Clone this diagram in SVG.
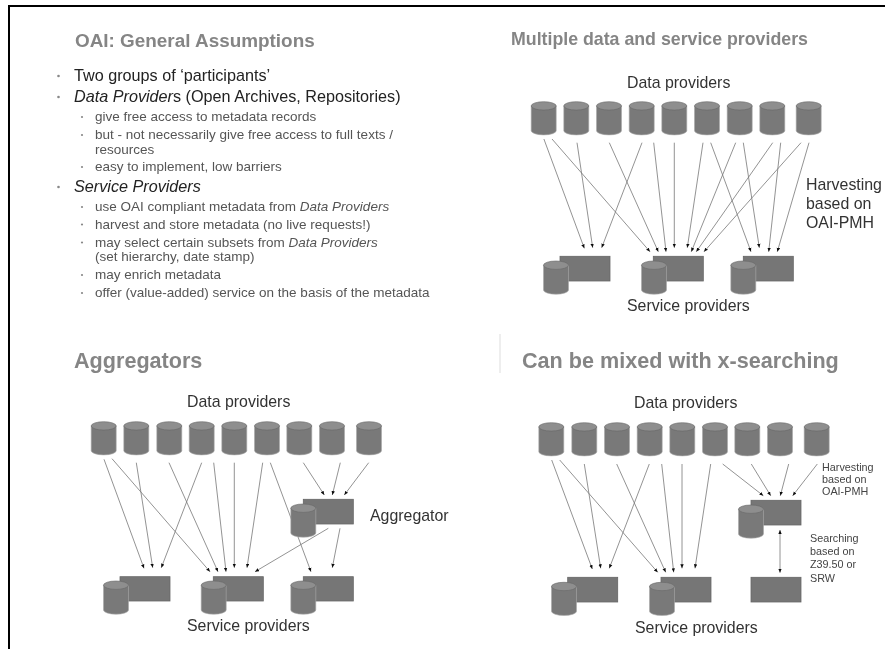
<svg xmlns="http://www.w3.org/2000/svg" xmlns:xlink="http://www.w3.org/1999/xlink" width="885" height="649" viewBox="0 0 885 649">
<style>
text{font-family:"Liberation Sans",Arial,sans-serif}
.ttl{font-weight:bold;fill:#858585}
.l1{font-size:16.2px;fill:#222}
.l2{font-size:13.5px;fill:#555}
.lab{font-size:15.9px;fill:#333}
.sm{font-size:10.8px;fill:#444}
.b{fill:#888}
.a line{stroke:#777;stroke-width:.8;marker-end:url(#ah)}
.rc{fill:#767676;stroke:#666;stroke-width:.8}
.cb{fill:#797979;stroke:#aaa;stroke-width:.6}
.ct{fill:#8e8e8e;stroke:#666;stroke-width:.6}
</style>
<defs>
<filter id="s" x="0" y="0" width="100%" height="100%" filterUnits="userSpaceOnUse"><feGaussianBlur stdDeviation="0.4"/></filter>
<marker id="ah" markerUnits="userSpaceOnUse" markerWidth="5" markerHeight="5" refX="4" refY="2" orient="auto"><path d="M0 0.300L4 2L0 3.700Z" fill="#111"/></marker>
<marker id="as" markerUnits="userSpaceOnUse" markerWidth="5" markerHeight="5" refX="0" refY="2" orient="auto"><path d="M4 0.300L0 2L4 3.700Z" fill="#111"/></marker>
<g id="cyl"><path class="cb" d="M0 4.200V29a12.500 4.200 0 0 0 25 0V4.200Z"/><ellipse class="ct" cx="12.500" cy="4.200" rx="12.500" ry="4.200"/></g>
</defs>
<rect width="885" height="649" fill="#fff"/>
<g filter="url(#s)">
<path d="M9 649V6H885" fill="none" stroke="#000" stroke-width="2"/>
<path d="M500 334V373" stroke="#ddd" stroke-width="1"/>

<g id="connectors" class="a">
<line x1="543.9" y1="139" x2="584.3" y2="248.3"/><line x1="552" y1="139" x2="650" y2="251.7"/><line x1="577" y1="142.7" x2="592.7" y2="247.7"/><line x1="609.3" y1="142.7" x2="658.3" y2="251.7"/><line x1="642" y1="142.7" x2="601.7" y2="247.7"/><line x1="653.7" y1="142.7" x2="666" y2="251.7"/><line x1="674.3" y1="142.7" x2="674.3" y2="247.7"/><line x1="703" y1="142.7" x2="687.3" y2="247.7"/><line x1="710.7" y1="142.7" x2="751" y2="251.7"/><line x1="735.7" y1="142.7" x2="691.3" y2="251.7"/><line x1="743.3" y1="142.7" x2="759.3" y2="247.7"/><line x1="772.7" y1="142.7" x2="696.3" y2="251.7"/><line x1="780.7" y1="142.7" x2="768.7" y2="251.7"/><line x1="801" y1="142.7" x2="704" y2="251.7"/><line x1="809" y1="142.7" x2="777.3" y2="251.7"/>
<line x1="104" y1="459.3" x2="144" y2="568.3"/><line x1="112" y1="458.7" x2="210" y2="571.7"/><line x1="136.3" y1="462.7" x2="152.7" y2="567.7"/><line x1="169" y1="462.7" x2="218" y2="571.7"/><line x1="201.7" y1="462.7" x2="161.3" y2="567.7"/><line x1="213.7" y1="462.7" x2="226" y2="571.7"/><line x1="234.3" y1="462.7" x2="234.3" y2="567.7"/><line x1="262.7" y1="462.7" x2="247" y2="567.7"/><line x1="270.3" y1="462.7" x2="311" y2="571.7"/><line x1="303.3" y1="462.7" x2="324.3" y2="495"/><line x1="340.3" y1="462.7" x2="332.3" y2="495"/><line x1="368.7" y1="462.7" x2="344.3" y2="495"/><line x1="328.3" y1="528.3" x2="255" y2="571.7"/><line x1="340" y1="528.3" x2="332.3" y2="567.7"/>
<line x1="551.7" y1="460" x2="592.3" y2="569"/><line x1="559.7" y1="460" x2="657.7" y2="572.3"/><line x1="584.3" y1="464" x2="600.7" y2="568.3"/><line x1="616.7" y1="464" x2="665.7" y2="572.3"/><line x1="649.3" y1="464" x2="609.3" y2="568.3"/><line x1="661.7" y1="464" x2="673.7" y2="572.3"/><line x1="682" y1="464" x2="682" y2="568.3"/><line x1="710.7" y1="464" x2="695" y2="568.3"/><line x1="722.7" y1="464" x2="763.3" y2="495.7"/><line x1="751.3" y1="464" x2="770.7" y2="495.7"/><line x1="788.7" y1="464" x2="780.3" y2="495.7"/><line x1="817.3" y1="464" x2="792.7" y2="495.7"/><line x1="780" y1="530" x2="780" y2="572.7" style="marker-start:url(#as)"/>
</g>

<g id="panel-assumptions">
<text class="ttl" x="75" y="47" font-size="18.900">OAI: General Assumptions</text>
<g class="b"><circle cx="58.500" cy="76" r="1.300"/><circle cx="58.500" cy="97" r="1.300"/><circle cx="82" cy="117" r="1.100"/><circle cx="82" cy="135" r="1.100"/><circle cx="82" cy="167" r="1.100"/><circle cx="58.500" cy="187" r="1.300"/><circle cx="82" cy="207" r="1.100"/><circle cx="82" cy="224.500" r="1.100"/><circle cx="82" cy="242.500" r="1.100"/><circle cx="82" cy="275" r="1.100"/><circle cx="82" cy="293" r="1.100"/></g>
<text class="l1" x="74" y="81">Two groups of ‘participants’</text>
<text class="l1" x="74" y="102"><tspan font-style="italic">Data Provider</tspan>s (Open Archives, Repositories)</text>
<text class="l2" x="95" y="121">give free access to metadata records</text>
<text class="l2" x="95" y="139">but - not necessarily give free access to full texts /</text>
<text class="l2" x="95" y="153.500">resources</text>
<text class="l2" x="95" y="171">easy to implement, low barriers</text>
<text class="l1" x="74" y="192" font-style="italic">Service Providers</text>
<text class="l2" x="95" y="211">use OAI compliant metadata from <tspan font-style="italic">Data Providers</tspan></text>
<text class="l2" x="95" y="228.500">harvest and store metadata (no live requests!)</text>
<text class="l2" x="95" y="246.500">may select certain subsets from <tspan font-style="italic">Data Providers</tspan></text>
<text class="l2" x="95" y="261">(set hierarchy, date stamp)</text>
<text class="l2" x="95" y="279">may enrich metadata</text>
<text class="l2" x="95" y="297">offer (value-added) service on the basis of the metadata</text>
</g>

<g id="titles">
<text class="ttl" x="511" y="45" font-size="17.750">Multiple data and service providers</text>
<text class="ttl" x="74" y="367.500" font-size="21.600">Aggregators</text>
<text class="ttl" x="522" y="368" font-size="21.600">Can be mixed with x-searching</text>
</g>

<g id="tr-data-providers">
<use xlink:href="#cyl" href="#cyl" x="531.2" y="101.700"/><use href="#cyl" x="563.800" y="101.700"/><use href="#cyl" x="596.500" y="101.700"/><use href="#cyl" x="629.200" y="101.700"/><use href="#cyl" x="661.800" y="101.700"/><use href="#cyl" x="694.500" y="101.700"/><use href="#cyl" x="727.200" y="101.700"/><use href="#cyl" x="759.800" y="101.700"/><use href="#cyl" x="796.200" y="101.700"/>
<text class="lab" x="627" y="88">Data providers</text>
</g>
<g id="tr-service-1"><rect class="rc" x="560" y="256.300" width="50" height="24.700"/><use href="#cyl" x="543.500" y="261"/></g>
<g id="tr-service-2"><rect class="rc" x="653.300" y="256.300" width="50" height="24.700"/><use href="#cyl" x="641.500" y="261"/></g>
<g id="tr-service-3"><rect class="rc" x="743.300" y="256.300" width="50" height="24.700"/><use href="#cyl" x="730.800" y="261"/></g>
<g id="tr-labels">
<text class="lab" x="627" y="310.700">Service providers</text>
<text class="lab" x="806" y="190">Harvesting</text><text class="lab" x="806" y="208.500">based on</text><text class="lab" x="806" y="227.500">OAI-PMH</text>
</g>

<g id="bl-data-providers">
<use href="#cyl" x="91.200" y="421.700"/><use href="#cyl" x="123.800" y="421.700"/><use href="#cyl" x="156.800" y="421.700"/><use href="#cyl" x="189.200" y="421.700"/><use href="#cyl" x="221.800" y="421.700"/><use href="#cyl" x="254.500" y="421.700"/><use href="#cyl" x="286.800" y="421.700"/><use href="#cyl" x="319.500" y="421.700"/><use href="#cyl" x="356.500" y="421.700"/>
<text class="lab" x="187" y="407">Data providers</text>
</g>
<g id="bl-aggregator"><rect class="rc" x="303.300" y="499.300" width="50" height="24.700"/><use href="#cyl" x="290.800" y="504"/><text class="lab" x="370" y="521">Aggregator</text></g>
<g id="bl-service-1"><rect class="rc" x="120" y="576.700" width="50" height="24.300"/><use href="#cyl" x="103.500" y="581"/></g>
<g id="bl-service-2"><rect class="rc" x="213.300" y="576.700" width="50" height="24.300"/><use href="#cyl" x="201.200" y="581"/></g>
<g id="bl-service-3"><rect class="rc" x="303.300" y="576.700" width="50" height="24.300"/><use href="#cyl" x="290.800" y="581"/></g>
<text class="lab" x="187" y="631">Service providers</text>

<g id="br-data-providers">
<use href="#cyl" x="538.800" y="422.700"/><use href="#cyl" x="571.800" y="422.700"/><use href="#cyl" x="604.500" y="422.700"/><use href="#cyl" x="637.200" y="422.700"/><use href="#cyl" x="669.800" y="422.700"/><use href="#cyl" x="702.500" y="422.700"/><use href="#cyl" x="734.800" y="422.700"/><use href="#cyl" x="767.500" y="422.700"/><use href="#cyl" x="804.200" y="422.700"/>
<text class="lab" x="634" y="408">Data providers</text>
</g>
<g id="br-aggregator"><rect class="rc" x="751" y="500.300" width="50" height="24.700"/><use href="#cyl" x="738.500" y="505"/></g>
<g id="br-service-1"><rect class="rc" x="567.700" y="577.300" width="50" height="24.700"/><use href="#cyl" x="551.500" y="582.300"/></g>
<g id="br-service-2"><rect class="rc" x="661" y="577.300" width="50" height="24.700"/><use href="#cyl" x="649.500" y="582.300"/></g>
<g id="br-service-3"><rect class="rc" x="751" y="577.300" width="50" height="24.700"/></g>
<g id="br-labels">
<text class="lab" x="635" y="632.700">Service providers</text>
<text class="sm" x="822" y="470.700">Harvesting</text><text class="sm" x="822" y="482.700">based on</text><text class="sm" x="822" y="495">OAI-PMH</text>
<text class="sm" x="810" y="541.700">Searching</text><text class="sm" x="810" y="555">based on</text><text class="sm" x="810" y="568">Z39.50 or</text><text class="sm" x="810" y="581.700">SRW</text>
</g>
</g>
</svg>
